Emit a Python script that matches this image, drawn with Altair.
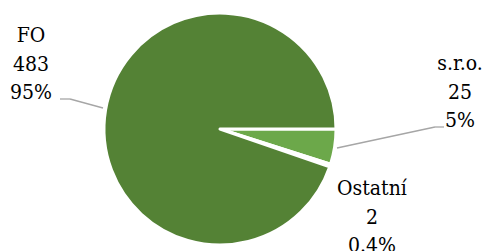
import altair as alt
import pandas as pd

categories = ["s.r.o.", "Ostatní", "FO"]
counts = [25, 2, 483]
percents = ["5%", "0.4%", "95%"]
colors = ["#6CA84A", "#A9D18E", "#548235"]

df = pd.DataFrame({"category": categories, "count": counts, "pct": percents})

base = alt.Chart(df).transform_window(idx="row_number()")

pie = base.mark_arc(radius=116, stroke="white", strokeWidth=3, strokeJoin="round",
                    x=212, y=121).encode(
    theta=alt.Theta("count:Q", stack=True,
                    scale=alt.Scale(range=[1.5707963, 1.5707963 + 6.2831853])),
    color=alt.Color("category:N", scale=alt.Scale(domain=categories, range=colors), legend=None),
    order=alt.Order("idx:Q"),
)

label_pos = {"FO": (23, 34), "s.r.o.": (452, 62), "Ostatní": (364, 187)}
labels = []
for cat, (lx, ly) in label_pos.items():
    labels.append(
        base.transform_filter(alt.datum.category == cat)
        .transform_calculate(lines="[datum.category, '' + datum.count, datum.pct]")
        .mark_text(font="DejaVu Serif Condensed", fontSize=21, lineHeight=28.5, align="center",
                   baseline="alphabetic", color="#000000")
        .encode(x=alt.value(lx), y=alt.value(ly), text="lines:N")
    )

leader_segments = [
    (52, 91, 62, 91), (62, 91, 95, 100),
    (329, 140, 427, 119), (427, 119, 436, 119),
]
leaders = []
for x1, y1, x2, y2 in leader_segments:
    leaders.append(
        alt.Chart(df.head(1)).mark_rule(color="#A6A6A6", strokeWidth=1.3).encode(
            x=alt.value(x1), y=alt.value(y1), x2=alt.value(x2), y2=alt.value(y2)
        )
    )

chart = alt.layer(pie, *leaders, *labels).properties(
    width=476, height=243, padding=0, autosize=alt.AutoSizeParams(type="none")
).configure_view(stroke=None)

chart.save("out.html", embed_options={"renderer": "svg", "actions": False})
